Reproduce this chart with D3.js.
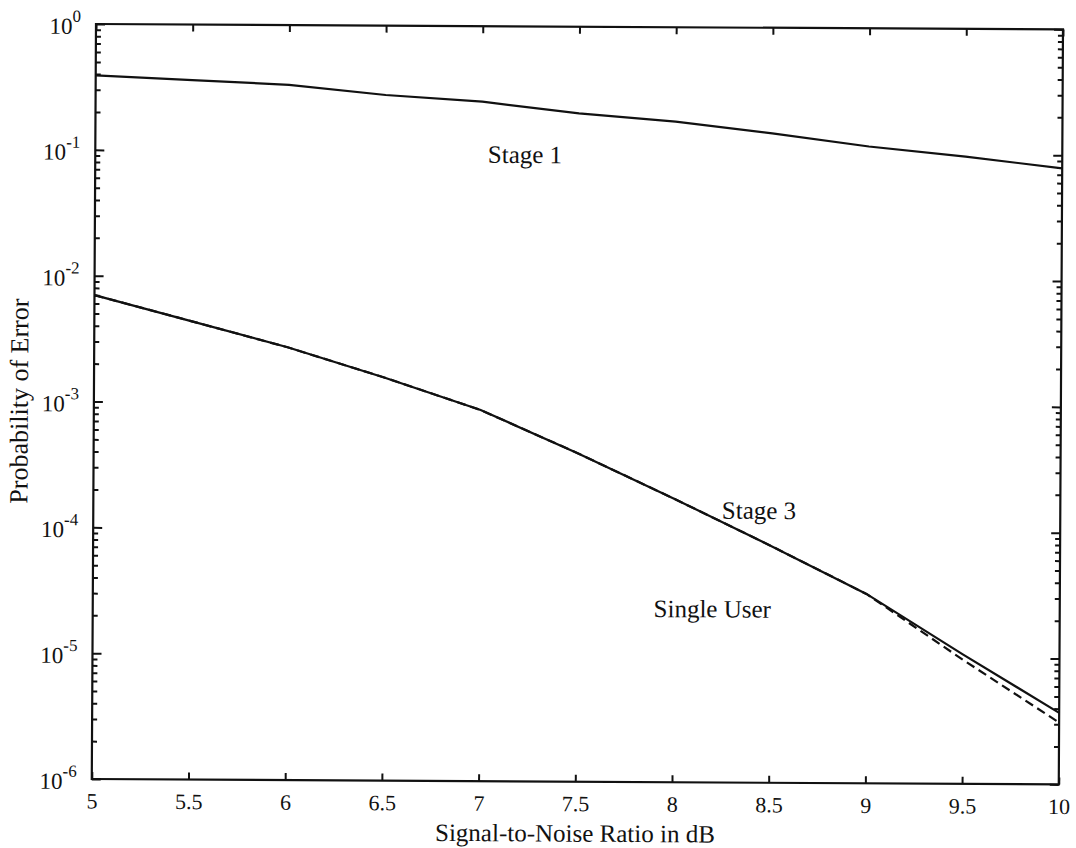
<!DOCTYPE html>
<html>
<head>
<meta charset="utf-8">
<script src="https://cdn.jsdelivr.net/npm/d3@7"></script>
<style>
  html, body { margin: 0; padding: 0; background: #fff; }
  svg { display: block; }
  text { font-family: "Liberation Serif", "DejaVu Serif", serif; fill: #111; }
</style>
</head>
<body>
<svg id="chart" width="1076" height="848"></svg>
<script>
// Signal-to-noise ratio grid (dB)
const snr = [5, 5.5, 6, 6.5, 7, 7.5, 8, 8.5, 9, 9.5, 10];
// Probability of error per detector stage
const stage1Pe     = [0.39, 0.362, 0.335, 0.281, 0.251, 0.205, 0.178, 0.145, 0.115, 0.0964, 0.0787];
const stage3Pe     = [7.0e-3, 4.4e-3, 2.75e-3, 1.6e-3, 8.9e-4, 4.1e-4, 1.8e-4, 7.7e-5, 3.2e-5, 1.07e-5, 3.7e-6];
const singleUserPe = [7.0e-3, 4.4e-3, 2.75e-3, 1.6e-3, 8.9e-4, 4.1e-4, 1.8e-4, 7.7e-5, 3.2e-5, 9.7e-6, 3.1e-6];

// Axis ticks
const xTicks = [5, 5.5, 6, 6.5, 7, 7.5, 8, 8.5, 9, 9.5, 10];
const xTickLabels = ["5", "5.5", "6", "6.5", "7", "7.5", "8", "8.5", "9", "9.5", "10"];
const yDecades = [1, 1e-1, 1e-2, 1e-3, 1e-4, 1e-5, 1e-6];
const yExponents = ["0", "-1", "-2", "-3", "-4", "-5", "-6"];

// Curve annotations
const curveLabels = [
  { text: "Stage 1",     x: 7.03, y: 0.082 },
  { text: "Stage 3",     x: 8.25, y: 1.25e-4 },
  { text: "Single User", x: 7.9,  y: 2.05e-5 }
];

const plotLeft = 96, plotTop = 24, plotW = 967, plotH = 755;
const svg = d3.select("#chart");
const g = svg.append("g")
  .attr("transform", `rotate(0.32, ${plotLeft}, ${plotTop}) translate(${plotLeft},${plotTop})`);

const x = d3.scaleLinear().domain([5, 10]).range([0, plotW]);
const y = d3.scaleLog().domain([1e-6, 1]).range([plotH, 0]);

// minor log ticks 2..9 in every decade
const yMinor = [];
for (let e = -6; e < 0; e++) for (let m = 2; m <= 9; m++) yMinor.push(m * Math.pow(10, e));

function styleAxis(sel) {
  sel.select(".domain").remove();
  sel.selectAll(".tick line").attr("stroke", "#111").attr("stroke-width", 2);
}

// left / right major and minor ticks (pointing inward)
g.append("g").call(d3.axisLeft(y).tickValues(yDecades).tickSize(-9).tickFormat("")).call(styleAxis);
g.append("g").call(d3.axisLeft(y).tickValues(yMinor).tickSize(-5).tickFormat("")).call(styleAxis);
g.append("g").attr("transform", `translate(${plotW},0)`)
  .call(d3.axisRight(y).tickValues(yDecades).tickSize(-9).tickFormat("")).call(styleAxis);
g.append("g").attr("transform", `translate(${plotW},0)`)
  .call(d3.axisRight(y).tickValues(yMinor).tickSize(-5).tickFormat("")).call(styleAxis);

// top / bottom ticks
g.append("g").call(d3.axisTop(x).tickValues(xTicks).tickSize(-7).tickFormat("")).call(styleAxis);
const xb = g.append("g").attr("transform", `translate(0,${plotH})`)
  .call(d3.axisBottom(x).tickValues(xTicks).tickSize(-7).tickPadding(14)
    .tickFormat((d, i) => xTickLabels[i]))
  .call(styleAxis);
xb.selectAll(".tick text").attr("font-size", 22).attr("font-family", "Liberation Serif, serif").attr("fill", "#111");

// y tick labels: 10 with superscript exponent
const yl = g.append("g").selectAll("text").data(yDecades).join("text")
  .attr("x", -15)
  .attr("y", d => y(d) + 10)
  .attr("text-anchor", "end")
  .attr("font-size", 23);
yl.append("tspan").text("10");
yl.append("tspan").attr("font-size", 17).attr("dy", -12).text((d, i) => yExponents[i]);

// frame
g.append("rect").attr("width", plotW).attr("height", plotH)
  .attr("fill", "none").attr("stroke", "#111").attr("stroke-width", 2.2);

// curves
const line = d3.line().x(d => x(d[0])).y(d => y(d[1]));
const series = [
  { values: stage1Pe, dash: null },
  { values: singleUserPe, dash: "9,5" },
  { values: stage3Pe, dash: null }
];
series.forEach(s => {
  g.append("path")
    .datum(snr.map((v, i) => [v, s.values[i]]))
    .attr("d", line)
    .attr("fill", "none")
    .attr("stroke", "#111")
    .attr("stroke-width", 2.2)
    .attr("stroke-dasharray", s.dash);
});

// curve annotations
g.append("g").selectAll("text").data(curveLabels).join("text")
  .attr("x", d => x(d.x))
  .attr("y", d => y(d.y))
  .attr("font-size", 25)
  .text(d => d.text);

// axis titles
g.append("text")
  .attr("x", plotW / 2).attr("y", plotH + 60)
  .attr("text-anchor", "middle").attr("font-size", 25)
  .text("Signal-to-Noise Ratio in dB");
g.append("text")
  .attr("transform", `translate(${-66},${plotH / 2}) rotate(-90)`)
  .attr("text-anchor", "middle").attr("font-size", 26)
  .text("Probability of Error");
</script>
</body>
</html>
